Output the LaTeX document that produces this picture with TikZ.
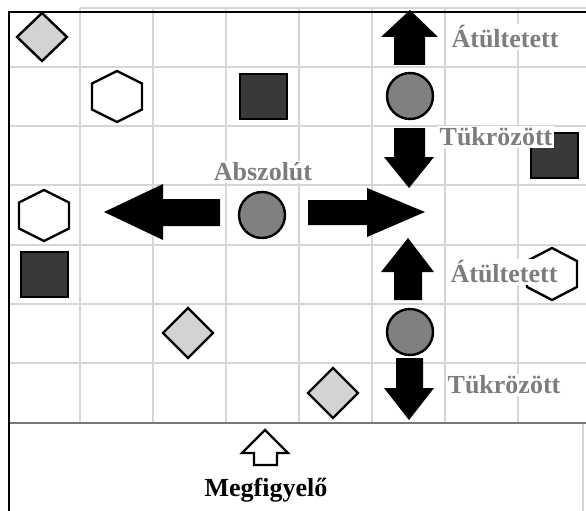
\documentclass[tikz,border=0pt]{standalone}
\usepackage{fontspec}
\setmainfont{Liberation Serif}
\definecolor{gridgr}{RGB}{214,214,214}
\definecolor{sepgr}{RGB}{120,120,120}
\definecolor{diagr}{RGB}{211,211,211}
\definecolor{sqdark}{RGB}{58,56,56}
\definecolor{circgr}{RGB}{128,128,128}
\definecolor{labelgr}{RGB}{125,125,125}
\begin{document}
\begin{tikzpicture}[x=1pt,y=-1pt,
  gridline/.style={draw=gridgr,line width=1.1pt},
  shp/.style={draw=black,line width=2.4pt,line join=miter},
  diam/.style={shp,fill=diagr},
  sq/.style={shp,fill=sqdark},
  circ/.style={shp,fill=circgr},
  hexa/.style={shp,fill=white},
  bigarrow/.style={fill=black},
  lbl/.style={font=\fontsize{26}{26}\selectfont\bfseries,text=labelgr,fill=white,inner sep=1.5pt},
  obslbl/.style={font=\fontsize{26}{26}\selectfont\bfseries,text=black,inner sep=0pt}]
\useasboundingbox (0,0) rectangle (586,511);
% grid
\foreach \x in {80,153,226,299,372,445,518} \draw[gridline] (\x,8) -- (\x,423);
\foreach \y in {67,126,185,245,304,363} \draw[gridline] (9,\y) -- (586,\y);
\draw[gridline] (80,8) -- (586,8);
\draw[gridline] (583,423) -- (583,511);
\draw[draw=sepgr,line width=1.6pt] (9,423) -- (586,423);
% borders
\draw[line width=2.6pt,line cap=rect] (586,12) -- (9,12) -- (9,511);
% diamonds
\draw[diam] (42,13) -- (67,37) -- (42,61) -- (17,37) -- cycle;
\draw[diam] (188,308) -- (213,333) -- (188,358) -- (163,333) -- cycle;
\draw[diam] (333,368) -- (358,393) -- (333,418) -- (308,393) -- cycle;
% hexagons
\draw[hexa] (117,71) -- ++(25,12.5) -- ++(0,26) -- ++(-25,12.5) -- ++(-25,-12.5) -- ++(0,-26) -- cycle;
\draw[hexa] (44,190) -- ++(25,12.5) -- ++(0,26) -- ++(-25,12.5) -- ++(-25,-12.5) -- ++(0,-26) -- cycle;
\draw[hexa] (552,248) -- ++(25,13) -- ++(0,26) -- ++(-25,13) -- ++(-25,-13) -- ++(0,-26) -- cycle;
% squares
\draw[sq] (240,74) rectangle (287,119);
\draw[sq] (21,252) rectangle (68,297);
\draw[sq] (531,133) rectangle (578,178);
% circles
\draw[circ] (410,96) circle (23);
\draw[circ] (262,215) circle (23);
\draw[circ] (410,332) circle (23);
% solid arrows
\fill[bigarrow] (410,10) -- (438,37) -- (425,37) -- (425,65) -- (394,65) -- (394,37) -- (381,37) -- cycle;
\fill[bigarrow] (409,188) -- (434,157) -- (425,157) -- (425,128) -- (394,128) -- (394,157) -- (384,157) -- cycle;
\fill[bigarrow] (104,212) -- (163,184) -- (163,199) -- (220,199) -- (220,226) -- (163,226) -- (163,240) -- cycle;
\fill[bigarrow] (425,212) -- (367,188) -- (367,200) -- (308,200) -- (308,225) -- (367,225) -- (367,237) -- cycle;
\fill[bigarrow] (408,238) -- (434,272) -- (422,272) -- (422,300) -- (394,300) -- (394,272) -- (381,272) -- cycle;
\fill[bigarrow] (409,420) -- (434,388) -- (423,388) -- (423,358) -- (396,358) -- (396,388) -- (384,388) -- cycle;
% observer arrow
\draw[shp,fill=white] (265,430) -- (288,453) -- (277,453) -- (277,465) -- (254,465) -- (254,453) -- (242,453) -- cycle;
% labels
\node[lbl] (l1) at (505,37) {Átültetett};
\node[lbl] (l2) at (496,137) {Tükrözött};
\node[lbl] (l3) at (263,172) {Abszolút};
\node[lbl] (l4) at (504,272) {Átültetett};
\node[lbl] (l5) at (504,385) {Tükrözött};
\node[obslbl] (obs) at (266,490) {Megfigyelő};
\end{tikzpicture}
\end{document}
